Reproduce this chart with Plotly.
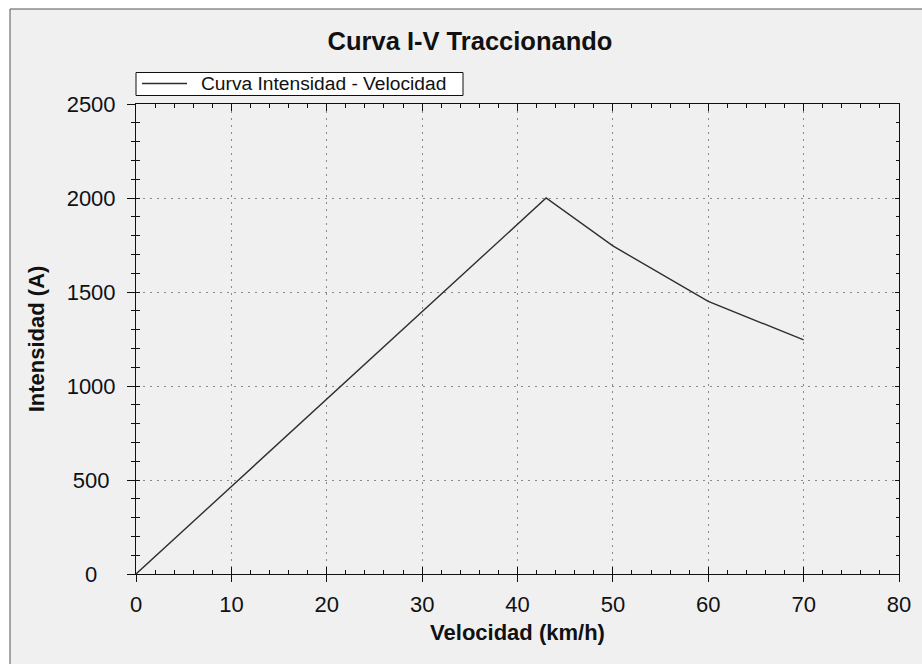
import plotly.graph_objects as go

# Data
velocidad = [0, 43, 50, 60, 70]
intensidad = [0, 2000, 1745, 1450, 1245]

x_ticks = [0, 10, 20, 30, 40, 50, 60, 70, 80]
y_ticks = [0, 500, 1000, 1500, 2000, 2500]
NB = "\u00a0"
y_ticktext = [NB * 3 + "0" + NB * 3, NB + "500" + NB, "1000", "1500", "2000", "2500"]
series_name = "Curva Intensidad - Velocidad"

W, H = 922, 664
L, R, T, B = 136, 23, 104, 90
pw, ph = W - L - R, H - T - B

def px_x(p):
    return (p - L) / pw

def px_y(p):
    return (H - B - p) / ph

FONT = "Liberation Sans, Arial, sans-serif"
GRID = "#8a8a8a"
INK = "#111111"

fig = go.Figure()
fig.add_trace(go.Scatter(
    x=velocidad, y=intensidad, mode="lines",
    name=series_name, showlegend=False,
    line=dict(color="#2e2e2e", width=1.4),
))
# invisible traces to create overlay axes for tick styling
fig.add_trace(go.Scatter(x=[None], y=[None], xaxis="x2", yaxis="y2",
                         showlegend=False, hoverinfo="skip"))
fig.add_trace(go.Scatter(x=[None], y=[None], xaxis="x3", yaxis="y3",
                         showlegend=False, hoverinfo="skip"))

tickfont = dict(family=FONT, size=22, color=INK)

# legend box drawn like the reference (framed, wide line sample)
leg_top, leg_bot, leg_left, leg_right = 72.5, 95.5, 136, 463
shapes = [
    dict(type="rect", xref="paper", yref="paper", layer="below",
         x0=px_x(10), x1=px_x(W + 10), y0=px_y(H + 10), y1=px_y(9),
         fillcolor="#f0f0f0", line=dict(color="#555555", width=1)),
    dict(type="rect", xref="paper", yref="paper", layer="above",
         x0=px_x(leg_left), x1=px_x(leg_right), y0=px_y(leg_bot), y1=px_y(leg_top),
         fillcolor="white", line=dict(color=INK, width=1)),
    dict(type="line", xref="paper", yref="paper", layer="above",
         x0=px_x(142), x1=px_x(187), y0=px_y(83.5), y1=px_y(83.5),
         line=dict(color="#2e2e2e", width=1.4)),
]
annotations = [
    dict(text=series_name, xref="paper", yref="paper", x=px_x(199), y=px_y(84),
         xanchor="left", yanchor="middle", showarrow=False,
         font=dict(family=FONT, size=19.2, color=INK)),
]

fig.update_layout(
    width=W, height=H,
    margin=dict(l=L, r=R, t=T, b=B, pad=0),
    paper_bgcolor="white",
    plot_bgcolor="white",
    font=dict(family=FONT, color=INK),
    title=dict(text="Curva I-V Traccionando", x=470 / W, xref="container",
               xanchor="center", y=1 - 41 / H, yref="container", yanchor="middle",
               font=dict(family=FONT, size=25.5, weight="bold", color=INK)),
    showlegend=False,
    xaxis=dict(
        range=[0, 80], tickvals=x_ticks, ticks="outside", ticklen=7,
        tickcolor=INK, showline=True, linecolor=INK, linewidth=1,
        showgrid=True, gridcolor=GRID, griddash="2px,5px", gridwidth=1,
        zeroline=False, tickfont=tickfont, ticklabelstandoff=4,
        title=dict(text="Velocidad (km/h)", standoff=8,
                   font=dict(family=FONT, size=22, weight="bold", color=INK)),
        fixedrange=True,
    ),
    xaxis2=dict(
        overlaying="x", side="bottom", anchor="y2", range=[0, 80],
        tickvals=x_ticks, ticks="inside", ticklen=7, tickcolor=INK,
        minor=dict(dtick=2, tick0=0, ticks="inside", ticklen=4, tickcolor=INK,
                   showgrid=False),
        showticklabels=False, showgrid=False, showline=False, zeroline=False,
        fixedrange=True,
    ),
    xaxis3=dict(
        overlaying="x", side="top", anchor="y3", range=[0, 80],
        tickvals=x_ticks, ticks="inside", ticklen=7, tickcolor=INK,
        minor=dict(dtick=2, tick0=0, ticks="inside", ticklen=4, tickcolor=INK,
                   showgrid=False),
        showticklabels=False, showgrid=False, showline=True, linecolor=INK,
        zeroline=False, fixedrange=True,
    ),
    yaxis=dict(
        range=[0, 2500], tickvals=y_ticks, ticktext=y_ticktext,
        ticks="outside", ticklen=8, tickcolor=INK,
        minor=dict(dtick=100, tick0=0, ticks="outside", ticklen=4, tickcolor=INK,
                   showgrid=False),
        showline=True, linecolor=INK, linewidth=1,
        showgrid=True, gridcolor=GRID, griddash="2px,5px", gridwidth=1,
        zeroline=False, tickfont=tickfont, ticklabelstandoff=7,
        title=dict(text="Intensidad (A)", standoff=15,
                   font=dict(family=FONT, size=22, weight="bold", color=INK)),
        fixedrange=True,
    ),
    yaxis2=dict(
        overlaying="y", side="left", anchor="x2", range=[0, 2500],
        tickvals=y_ticks, ticks="inside", ticklen=4, tickcolor=INK,
        minor=dict(dtick=100, tick0=0, ticks="inside", ticklen=4, tickcolor=INK,
                   showgrid=False),
        showticklabels=False, showgrid=False, showline=False, zeroline=False,
        fixedrange=True,
    ),
    yaxis3=dict(
        overlaying="y", side="right", anchor="x3", range=[0, 2500],
        tickvals=y_ticks, ticks="inside", ticklen=4, tickcolor=INK,
        minor=dict(dtick=100, tick0=0, ticks="inside", ticklen=3, tickcolor=INK,
                   showgrid=False),
        showticklabels=False, showgrid=False, showline=True, linecolor=INK,
        zeroline=False, fixedrange=True,
    ),
    shapes=shapes,
    annotations=annotations,
)

fig.write_html("out.html", config=dict(displayModeBar=False))
